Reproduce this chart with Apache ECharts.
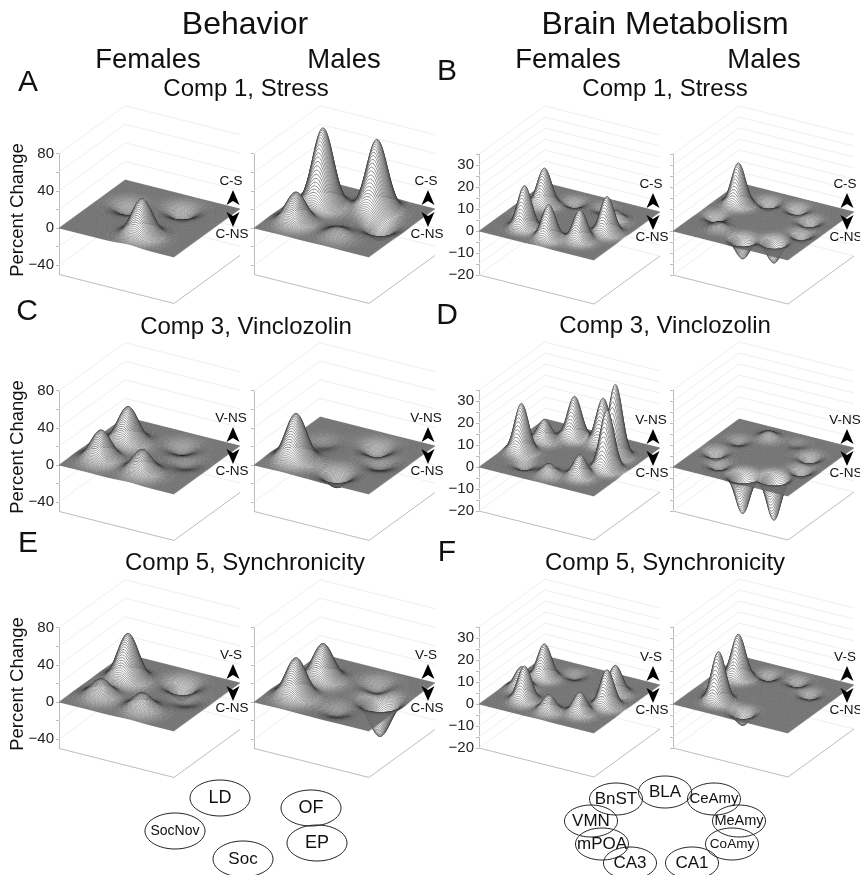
<!DOCTYPE html>
<html><head><meta charset="utf-8">
<style>html,body{margin:0;padding:0;background:#fff}#c{width:860px;height:875px}</style>
<script src="https://cdn.jsdelivr.net/npm/echarts@6/dist/echarts.min.js"></script>
</head><body><div id="c"></div>
<script>
// node labels
const behaviorNodes = ['LD','OF','SocNov','Soc','EP'];
const brainNodes = ['k0','k1','k2','k3','k4','k5','k6','k7','k8'];
// node places on the floor (fractions along front-left edge and left-back edge)
const behaviorU = [.25,.634,.227,.607,.796];
const behaviorV = [.61,.758,.241,.20,.522];
const brainU = [.52,.74,.85,.79,.60,.36,.19,.14,.27];
const brainV = [.15,.24,.46,.69,.835,.82,.66,.40,.22];
// read peak heights, percent change at each node
const aFemale = [-10,-12,0,40,0];
const aMale   = [84,76,33,9,-15];
const cFemale = [39,-8,32,25,-5];
const cMale   = [-4,-12,50,-15,-7];
const eFemale = [50,-17,19,18,-5];
const eMale   = [39,-9,42,-6,-39];
const bFemale = [15.5,14,16.8,4.5,-2,-3,16.7,-1,19.4];
const bMale   = [-9,-10,-4,-4,-4,-4,19,-4,2.5];
const dFemale = [5,10,27,33,21,19,9.7,22,-3];
const dMale   = [-17.6,-19.7,-4,-4,-1,3,-2,-4,-3];
const fFemale = [7.7,9.7,16.7,12.9,0,-2,15.4,10,16];
const fMale   = [-6,0,0,-3,-3,-3,19.8,-2,22.6];
// axes
const behaviorTicks = [-40,-20,0,20,40,60,80];
const behaviorLabels = [-40,0,40,80];
const brainTicks = [-20,-15,-10,-5,0,5,10,15,20,25,30,35];
const brainLabels = [-20,-10,0,10,20,30];
const behaviorWall = [-40,-20,20,40,60,80];
const brainWall = [-20,-15,-10,-5,5,10,15,20,25,30,35];

const MESH = 150, CHUNK = 6;
const EA = [115,29], EB = [66,-48];
const panels = [
 {x:59, zero:228, kind:0, vals:aFemale, hi:'C-S'},
 {x:254,zero:228, kind:0, vals:aMale, hi:'C-S'},
 {x:479,zero:231, kind:1, vals:bFemale, hi:'C-S'},
 {x:673,zero:231, kind:1, vals:bMale, hi:'C-S'},
 {x:59, zero:465, kind:0, vals:cFemale, hi:'V-NS'},
 {x:254,zero:465, kind:0, vals:cMale, hi:'V-NS'},
 {x:479,zero:467, kind:1, vals:dFemale, hi:'V-NS'},
 {x:673,zero:467, kind:1, vals:dMale, hi:'V-NS'},
 {x:59, zero:702, kind:0, vals:eFemale, hi:'V-S'},
 {x:254,zero:702, kind:0, vals:eMale, hi:'V-S'},
 {x:479,zero:704, kind:1, vals:fFemale, hi:'V-S'},
 {x:673,zero:704, kind:1, vals:fMale, hi:'V-S'}
];
const kinds = [
 {k:.929,min:-50,max:80,ticks:behaviorTicks,labels:behaviorLabels,wall:behaviorWall,U:behaviorU,V:behaviorV,sig:.078,fs:15},
 {k:2.2,min:-20,max:35,ticks:brainTicks,labels:brainLabels,wall:brainWall,U:brainU,V:brainV,sig:.052,fs:15}
];
const grids=[],xAxes=[],yAxes=[],series=[];
const fmt=q=>q[0].toFixed(2)+' '+q[1].toFixed(2);
panels.forEach((p,i)=>{
  const K=kinds[p.kind];
  grids.push({left:p.x,top:p.zero-K.max*K.k,width:EA[0]+EB[0],height:(K.max-K.min)*K.k});
  xAxes.push({gridIndex:i,type:'value',min:0,max:EA[0]+EB[0],show:false});
  yAxes.push({gridIndex:i,type:'value',min:K.min,max:K.max,
    splitLine:{show:false},
    axisLine:{show:true,onZero:false,lineStyle:{color:'#bdbdbd',width:1}},
    axisTick:{show:true,length:3,customValues:K.ticks,lineStyle:{color:'#bdbdbd'}},
    axisLabel:{show:i%2===0,customValues:K.labels,margin:5,fontSize:K.fs,fontFamily:'Liberation Sans',color:'#222',
      formatter:v=>v<0?'\u2212'+Math.abs(v):String(v)}});
  const proj=(u,v,z)=>[EA[0]*u+EB[0]*v, z+(-EA[1]*u-EB[1]*v)/K.k];
  // walls
  series.push({type:'custom',xAxisIndex:i,yAxisIndex:i,silent:true,animation:false,clip:false,z:1,
    data:K.wall.map(z=>[0,z]),encode:{x:0,y:1},
    renderItem:(pa,api)=>{const z=api.value(1);
      return {type:'polyline',shape:{points:[proj(0,0,z),proj(0,1,z),proj(1,1,z)].map(q=>api.coord(q))},style:{stroke:'#efefef',lineWidth:1,fill:null}};}});
  // base of the box
  series.push({type:'custom',xAxisIndex:i,yAxisIndex:i,silent:true,animation:false,clip:false,z:2,
    data:[[0,K.min]],encode:{x:0,y:1},
    renderItem:(pa,api)=>{const z=api.value(1);
      return {type:'polyline',shape:{points:[proj(0,0,z),proj(1,0,z),proj(1,1,z)].map(q=>api.coord(q))},style:{stroke:'#bdbdbd',lineWidth:1,fill:null}};}});
  // surface
  const height=(u,v)=>{let s=0;p.vals.forEach((a,n)=>{const du=u-K.U[n],dv=v-K.V[n];s+=a*Math.exp(-(du*du+dv*dv)/(2*K.sig*K.sig));});return s;};
  const Z=[];for(let r=0;r<=MESH;r++){const row=[];for(let c=0;c<=MESH;c++)row.push(height(c/MESH,1-r/MESH));Z.push(row);}
  const rows=[];for(let r=0;r<MESH;r++)rows.push([r,0]);
  series.push({type:'custom',xAxisIndex:i,yAxisIndex:i,silent:true,animation:false,clip:false,z:3,progressive:0,
    data:rows,encode:{x:0,y:1},
    renderItem:(pa,api)=>{
      const r=api.value(0);
      const back=[],front=[];
      const pt=(rr,c)=>api.coord(proj(c/MESH,1-rr/MESH,Z[rr][c]));
      for(let c=0;c<=MESH;c++){back.push(pt(r,c));front.push(pt(r+1,c));}
      const flat=c=>Math.max(Math.abs(Z[r][c]),Math.abs(Z[r][c+1]),Math.abs(Z[r+1][c]),Math.abs(Z[r+1][c+1]))*K.k<.15;
      const children=[];
      let c=0;
      while(c<MESH){
        let e=c+1;
        if(flat(c)){while(e<MESH&&flat(e))e++;}
        else{while(e<MESH&&e-c<CHUNK&&!flat(e))e++;}
        const b=back.slice(c,e+1),f=front.slice(c,e+1);
        let d='M'+b.map(fmt).join('L');
        if(r===MESH-1)d+='M'+f.map(fmt).join('L');
        children.push({type:'polygon',shape:{points:b.concat(f.slice().reverse())},style:{fill:'#fff',stroke:null}});
        children.push({type:'path',shape:{pathData:d},style:{fill:null,stroke:'#222',lineWidth:.46}});
        c=e;
      }
      return {type:'group',children:children};
    }});
});
const font='Liberation Sans';
const T=(text,x,y,size,extra)=>Object.assign({type:'text',x:x,y:y,z:20,style:{text:text,fontFamily:font,fontSize:size,fill:'#111',textAlign:'center',textVerticalAlign:'middle'}},extra||{});
const g=[];
[['Behavior',245,25,32],['Brain Metabolism',665,25,32],
 ['Females',148,60,27.5],['Males',344,60,27.5],['Females',568,60,27.5],['Males',764,60,27.5],
 ['Comp 1, Stress',246,89,24],['Comp 1, Stress',665,89,24],
 ['Comp 3, Vinclozolin',246,327,24],['Comp 3, Vinclozolin',665,326,24],
 ['Comp 5, Synchronicity',245,563,24],['Comp 5, Synchronicity',665,563,24],
 ['A',28,83,30],['B',447,72,30],['C',27,312,30],['D',447,316,30],['E',28,544,30],['F',447,553,30]
].forEach(a=>g.push(T(a[0],a[1],a[2],a[3])));
[210,447,684].forEach(y=>g.push(T('Percent Change',18,y,18.5,{rotation:Math.PI/2})));
panels.forEach(p=>{
  g.push(T(p.hi,p.x+172,p.zero-47,13.5));
  g.push(T('C-NS',p.x+173,p.zero+6,13.5));
  const cx=p.x+174,z=p.zero;
  g.push({type:'polygon',z:15,shape:{points:[[cx,z-38],[cx+6.5,z-23],[cx,z-27],[cx-6.5,z-23]]},style:{fill:'#000'}});
  g.push({type:'polygon',z:15,shape:{points:[[cx,z-1],[cx+6.5,z-16],[cx,z-12],[cx-6.5,z-16]]},style:{fill:'#000'}});
});
const ell=(text,cx,cy,rx,ry,size)=>{
  g.push({type:'ellipse',z:18,shape:{cx:cx,cy:cy,rx:rx,ry:ry},style:{fill:null,stroke:'#222',lineWidth:1}});
  g.push(T(text,cx,cy,size));
};
ell('LD',220,798,30,18,18);ell('SocNov',175,831,30,18,14);ell('OF',311,808,30,18,18);ell('EP',317,843,30,18,18);ell('Soc',243,859,30,18,17);
ell('BnST',616,799,26.5,16,17);ell('BLA',665,792,26.5,16,17);ell('CeAmy',714,799,26.5,16,15);ell('MeAmy',739,821,26.5,16,14.5);
ell('CoAmy',732,844,26.5,16,13.5);ell('CA1',692,863,26.5,16,17);ell('CA3',630,863,26.5,16,17);ell('mPOA',602,844,26.5,16,17);ell('VMN',591,821,26.5,16,17);
const chart=echarts.init(document.getElementById('c'),null,{renderer:'canvas',width:860,height:875});
chart.setOption({animation:false,backgroundColor:'#fff',grid:grids,xAxis:xAxes,yAxis:yAxes,series:series,graphic:{elements:g}});
</script></body></html>
